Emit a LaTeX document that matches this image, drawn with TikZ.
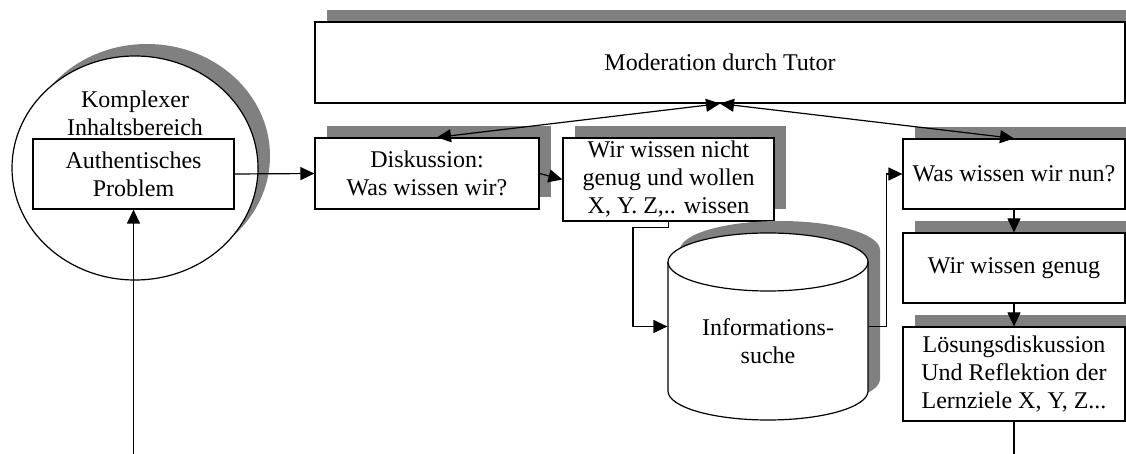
\documentclass[tikz,border=0pt]{standalone}
\usepackage{fontspec}
\setmainfont{Liberation Serif}
\usetikzlibrary{arrows.meta,shapes.geometric,shadows}

\begin{document}
\begin{tikzpicture}[
  x=0.5pt, y=-0.5pt, line width=0.6pt,
  shad/.style  = {drop shadow={shadow xshift=6pt, shadow yshift=6pt, fill=black!50, opacity=1}},
  plain/.style = {draw, fill=white, inner sep=0pt, align=center, font=\fontsize{12pt}{14pt}\selectfont},
  box/.style   = {plain, shad},
  lab/.style   = {inner sep=0pt, align=center, font=\fontsize{12pt}{14pt}\selectfont},
  arr/.style   = {-{Triangle[length=7pt, width=6.5pt]}},
  dbl/.style   = {{Triangle[length=7pt, width=6.5pt]}-{Triangle[length=7pt, width=6.5pt]}}
]
\useasboundingbox (0,0) rectangle (1126,454);
\clip (0,0) rectangle (1126,454);

% ================= content area =================
\node[ellipse, draw, fill=white, shad, minimum width=123pt, minimum height=112pt, inner sep=0pt] (inhalt) at (135,168) {};
\node[lab]   (inhaltlab) at (135,113.5) {Komplexer\\Inhaltsbereich};
\node[plain, minimum width=100.5pt, minimum height=35pt] (auth) at (133.5,174) {Authentisches\\Problem};

% ================= tutor and group steps =================
\node[box, minimum width=405pt, minimum height=40.5pt]   (mod)   at (720,62.5)   {Moderation durch Tutor};
\node[box, minimum width=112pt, minimum height=35.5pt]   (disk)  at (427,173.5)  {Diskussion:\\Was wissen wir?};
\node[box, minimum width=105.5pt, minimum height=41.5pt] (nicht) at (668.5,179.5) {Wir wissen nicht\\genug und wollen\\X, Y. Z,.. wissen};
\node[box, minimum width=111pt, minimum height=35pt]     (was)   at (1014,174)   {Was wissen wir nun?};
\node[box, minimum width=111pt, minimum height=35pt]     (genug) at (1014,268)   {Wir wissen genug};
\node[box, minimum width=111pt, minimum height=47pt]     (loes)  at (1014,374)   {Lösungsdiskussion\\Und Reflektion der\\Lernziele X, Y, Z...};

% ================= information search (cylinder) =================
\node[inner sep=0pt, minimum width=100pt, minimum height=93.5pt] (info) at (768,326.5) {};
\filldraw[fill=white, shad] (668,262) -- (668,391)
  arc[start angle=180, end angle=360, x radius=50pt, y radius=14.5pt] -- (868,262)
  arc[start angle=0, end angle=180, x radius=50pt, y radius=14.5pt] -- cycle;
\draw (668,262) arc[start angle=180, end angle=360, x radius=50pt, y radius=14.5pt];
\node[lab] (infolab) at (768,341) {Informations-\\suche};

% ================= connectors =================
\coordinate (inbot)  at (133.5,460);
\coordinate (outbot) at (1014,460);
\draw[arr] (inbot) -- (auth.south);
\draw[arr] (auth.east) -- (disk.west);
\draw[arr] (disk.east) -- (nicht.west);
\draw[dbl] ([xshift=5pt]disk.north) -- (mod.south);
\draw[dbl] (mod.south) -- (was.north);
\draw[arr] (nicht.south) -- ++(0,6) -- ++(-35.5,0) |- (info.west);
\draw[arr] (info.east) -- ++(18,0) |- (was.west);
\draw[arr] (was.south) -- (genug.north);
\draw[arr] (genug.south) -- (loes.north);
\draw (loes.south) -- (outbot);

\end{tikzpicture}
\end{document}
